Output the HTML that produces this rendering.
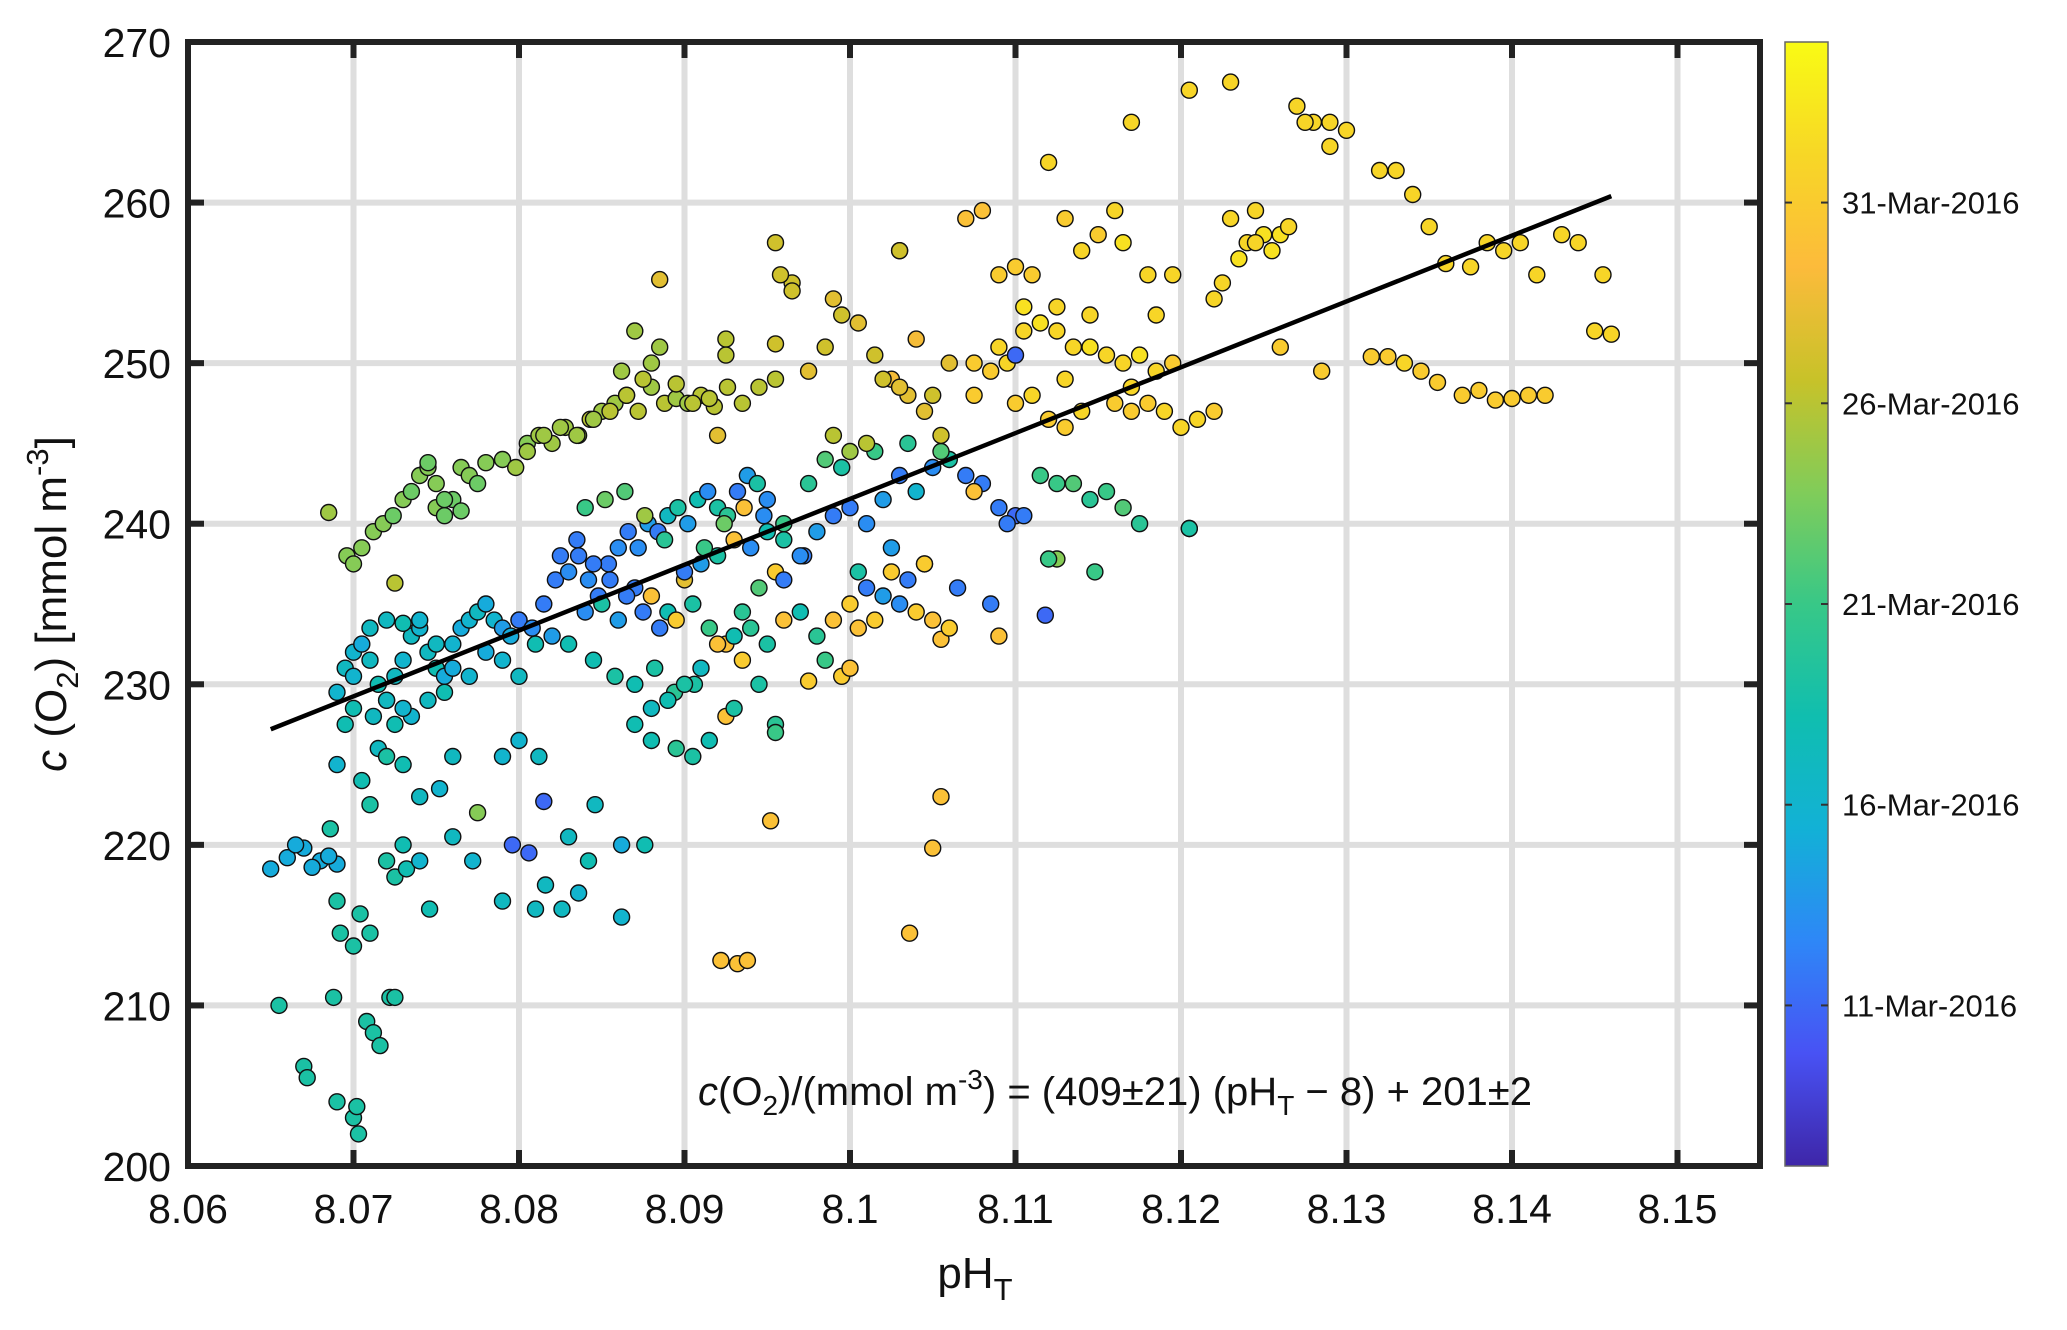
<!DOCTYPE html>
<html><head><meta charset="utf-8"><style>
body{margin:0;background:#fff;}
svg{display:block;font-family:"Liberation Sans",Arial,sans-serif;}
</style></head><body>
<svg id="chart" width="2067" height="1330" viewBox="0 0 2067 1330" xmlns="http://www.w3.org/2000/svg">
<defs>
<linearGradient id="parula" x1="0" y1="1" x2="0" y2="0">
<stop offset="0" stop-color="rgb(62,38,168)"/><stop offset="0.1" stop-color="rgb(72,82,244)"/><stop offset="0.2" stop-color="rgb(46,135,247)"/><stop offset="0.3" stop-color="rgb(18,177,214)"/><stop offset="0.4" stop-color="rgb(16,190,175)"/><stop offset="0.5" stop-color="rgb(56,200,135)"/><stop offset="0.6" stop-color="rgb(129,204,89)"/><stop offset="0.7" stop-color="rgb(200,194,41)"/><stop offset="0.8" stop-color="rgb(252,187,59)"/><stop offset="0.9" stop-color="rgb(247,215,38)"/><stop offset="1" stop-color="rgb(249,251,20)"/>
</linearGradient>
<clipPath id="plotclip"><rect x="188" y="42" width="1572" height="1124"/></clipPath>
</defs>
<g id="grid"></g>
<g id="points" clip-path="url(#plotclip)"></g>
<g id="fit"></g>
<g id="axes"></g>
<text x="698" y="1105" font-size="40" fill="#111"><tspan font-style="italic">c</tspan>(O<tspan font-size="28" dy="10">2</tspan><tspan dy="-10">)/(mmol m</tspan><tspan font-size="28" dy="-16">-3</tspan><tspan dy="16">) = (409±21) (pH</tspan><tspan font-size="28" dy="10">T</tspan><tspan dy="-10"> − 8) + 201±2</tspan></text>
<text x="975" y="1288" font-size="44" text-anchor="middle" fill="#111">pH<tspan font-size="31" dy="12">T</tspan></text>
<text transform="translate(66,604) rotate(-90)" font-size="44" text-anchor="middle" fill="#111"><tspan font-style="italic">c</tspan> (O<tspan font-size="31" dy="12">2</tspan><tspan dy="-12">) [mmol m</tspan><tspan font-size="31" dy="-18">-3</tspan><tspan dy="18">]</tspan></text>
<g id="cbar"></g>
</svg>
<script>
const xTicks=[8.06,8.07,8.08,8.09,8.1,8.11,8.12,8.13,8.14,8.15];
const xTickLabels=["8.06","8.07","8.08","8.09","8.1","8.11","8.12","8.13","8.14","8.15"];
const yTicks=[200,210,220,230,240,250,260,270];
const cbarDays=[4,9,14,19,24];
const cbarLabels=["11-Mar-2016","16-Mar-2016","21-Mar-2016","26-Mar-2016","31-Mar-2016"];
const fitPH=[8.065,8.146];
const fitO2=[227.2,260.4];
const pH=[
8.0650,8.0660,8.0670,8.0680,8.0690,8.0665,8.0675,8.0685,
8.0655,8.0670,8.0672,8.0690,8.0700,8.0703,8.0702,8.0688,8.0708,8.0712,8.0716,8.0722,8.0690,8.0692,8.0700,8.0704,8.0710,8.0686,8.0725,
8.0690,8.0695,8.0705,8.0710,8.0715,8.0720,8.0730,8.0720,8.0725,8.0730,8.0732,8.0740,8.0746,8.0752,8.0760,8.0775,8.0772,8.0790,8.0796,8.0806,8.0810,8.0816,8.0826,8.0830,8.0836,8.0842,8.0815,8.0846,8.0862,8.0790,8.0800,8.0812,8.0740,8.0760,
8.0690,8.0695,8.0700,8.0705,8.0710,8.0715,8.0720,8.0725,8.0730,8.0735,8.0740,8.0745,8.0750,8.0755,8.0760,8.0765,8.0770,8.0775,8.0780,8.0785,8.0790,8.0795,8.0800,8.0700,8.0710,8.0720,8.0730,8.0740,8.0750,8.0760,8.0700,8.0712,8.0725,8.0735,8.0745,8.0755,8.0770,8.0780,8.0790,8.0800,8.0810,8.0720,8.0730,
8.0696,8.0700,8.0705,8.0712,8.0718,8.0724,8.0730,8.0735,8.0740,8.0745,8.0750,8.0755,8.0760,8.0765,8.0770,8.0775,8.0780,8.0790,8.0798,8.0805,8.0812,8.0820,8.0828,8.0836,8.0843,8.0850,8.0858,8.0865,8.0872,8.0880,8.0888,8.0895,8.0902,8.0910,8.0918,8.0926,8.0745,8.0755,8.0765,8.0750,8.0685,8.0725,
8.0805,8.0815,8.0825,8.0835,8.0845,8.0855,8.0865,8.0875,8.0885,8.0895,8.0905,8.0915,8.0925,8.0935,8.0945,8.0955,8.0870,8.0880,8.0925,8.0955,8.0862,8.0885,
8.0800,8.0808,8.0815,8.0822,8.0830,8.0836,8.0842,8.0848,8.0854,8.0860,8.0866,8.0872,8.0878,8.0884,8.0890,8.0896,8.0902,8.0908,8.0914,8.0920,8.0926,8.0932,8.0938,8.0944,8.0950,8.0820,8.0830,8.0840,8.0850,8.0860,8.0870,8.0880,8.0890,8.0900,8.0910,8.0920,8.0930,8.0940,8.0950,8.0960,8.0825,8.0835,8.0845,8.0855,8.0865,8.0875,8.0885,8.0895,8.0905,8.0915,8.0925,8.0935,8.0945,8.0955,8.0840,8.0852,8.0864,8.0876,8.0888,8.0900,8.0912,8.0924,8.0936,8.0948,8.0960,8.0972,8.0845,8.0858,8.0870,8.0882,8.0894,8.0906,
8.0870,8.0880,8.0890,8.0900,8.0910,8.0920,8.0930,8.0940,8.0950,8.0960,8.0970,8.0980,8.0990,8.1000,8.1010,8.1020,8.1030,8.1040,8.1050,8.0925,8.0935,8.0945,8.0955,8.0985,8.0995,8.1005,8.1015,8.1025,8.1035,8.1045,8.0880,8.0895,8.0905,8.0915,8.0930,8.1055,8.1060,
8.0960,8.0970,8.0980,8.0990,8.1000,8.1010,8.1020,8.1030,8.1040,8.1050,8.1060,8.1070,8.1080,8.1090,8.1100,8.0975,8.0995,8.1015,8.1035,8.1055,8.1075,8.1095,8.1005,8.1025,8.1045,8.1065,8.1085,8.1105,8.0985,8.1115,8.1125,8.1135,8.1145,8.1155,8.1165,8.1175,8.1205,8.1125,
8.0955,8.0965,8.0975,8.0985,8.0995,8.1005,8.1015,8.1025,8.1035,8.1045,8.1055,8.0990,8.1000,8.1010,8.1030,8.1050,8.0965,8.0990,8.1020,8.1040,8.1060,8.0958,8.1030,
8.1070,8.1080,8.1090,8.1100,8.1110,8.1120,8.1130,8.1140,8.1150,8.1160,8.1170,8.1180,8.1075,8.1095,8.1105,8.1115,8.1125,8.1135,8.1145,8.1155,8.1165,8.1175,8.1185,8.1195,8.1100,8.1110,8.1120,8.1130,8.1140,8.1160,8.1170,8.1180,8.1190,8.1200,8.1210,8.1220,8.1075,8.1090,8.1105,8.1125,8.1145,8.1165,8.1185,8.1085,8.1130,8.1170,8.1195,8.1220,8.1230,8.1205,
8.1230,8.1240,8.1250,8.1260,8.1270,8.1280,8.1290,8.1300,8.1320,8.1330,8.1340,8.1350,8.1360,8.1370,8.1380,8.1390,8.1400,8.1410,8.1420,8.1430,8.1440,8.1450,8.1460,8.1225,8.1235,8.1245,8.1255,8.1285,8.1315,8.1325,8.1335,8.1345,8.1355,8.1375,8.1385,8.1395,8.1405,8.1415,8.1455,8.1245,8.1260,8.1275,8.1290,8.1265,
8.0922,8.0932,8.0938,8.0952,8.1036,8.1050,8.1055,8.1090,8.1118,8.1148,8.1120,8.1205,8.0862,8.0876,8.0955,8.1000,8.0920,8.1100,8.1030,8.0975
];
const o2=[
218.5,219.2,219.8,219.0,218.8,220.0,218.6,219.3,
210.0,206.2,205.5,204.0,203.0,202.0,203.7,210.5,209.0,208.3,207.5,210.5,216.5,214.5,213.7,215.7,214.5,221.0,210.5,
225.0,227.5,224.0,222.5,226.0,225.5,225.0,219.0,218.0,220.0,218.5,219.0,216.0,223.5,220.5,222.0,219.0,216.5,220.0,219.5,216.0,217.5,216.0,220.5,217.0,219.0,222.7,222.5,220.0,225.5,226.5,225.5,223.0,225.5,
229.5,231.0,232.0,232.5,231.5,230.0,229.0,230.5,231.5,233.0,233.5,232.0,231.0,230.5,232.5,233.5,234.0,234.5,235.0,234.0,233.5,233.0,234.0,230.5,233.5,234.0,233.8,234.0,232.5,231.0,228.5,228.0,227.5,228.0,229.0,229.5,230.5,232.0,231.5,230.5,232.5,229.0,228.5,
238.0,237.5,238.5,239.5,240.0,240.5,241.5,242.0,243.0,243.5,241.0,240.5,241.5,243.5,243.0,242.5,243.8,244.0,243.5,245.0,245.5,245.0,246.0,245.5,246.5,247.0,247.5,248.0,247.0,248.5,247.5,247.8,247.5,248.0,247.3,248.5,243.8,241.5,240.8,242.5,240.7,236.3,
244.5,245.5,246.0,245.5,246.5,247.0,248.0,249.0,251.0,248.7,247.5,247.8,251.5,247.5,248.5,251.2,252.0,250.0,250.5,249.0,249.5,255.2,
234.0,233.5,235.0,236.5,237.0,238.0,236.5,235.5,237.5,238.5,239.5,238.5,240.0,239.5,240.5,241.0,240.0,241.5,242.0,241.0,240.5,242.0,243.0,242.5,241.5,233.0,232.5,234.5,235.0,234.0,236.0,235.5,234.5,236.5,237.5,238.0,239.0,238.5,239.5,240.0,238.0,239.0,237.5,236.5,235.5,234.5,233.5,234.0,235.0,233.5,232.5,234.5,236.0,237.0,241.0,241.5,242.0,240.5,239.0,237.0,238.5,240.0,241.0,240.5,239.0,238.0,231.5,230.5,230.0,231.0,229.5,230.0,
227.5,228.5,229.0,230.0,231.0,232.5,233.0,233.5,232.5,234.0,234.5,233.0,234.0,235.0,236.0,235.5,235.0,234.5,234.0,228.0,231.5,230.0,227.5,231.5,230.5,233.5,234.0,237.0,236.5,237.5,226.5,226.0,225.5,226.5,228.5,232.8,233.5,
236.5,238.0,239.5,240.5,241.0,240.0,241.5,243.0,242.0,243.5,244.0,243.0,242.5,241.0,240.5,242.5,243.5,244.5,245.0,244.5,242.0,240.0,237.0,238.5,237.5,236.0,235.0,240.5,244.0,243.0,242.5,242.5,241.5,242.0,241.0,240.0,239.7,237.8,
257.5,255.0,249.5,251.0,253.0,252.5,250.5,249.0,248.0,247.0,245.5,245.5,244.5,245.0,248.5,248.0,254.5,254.0,249.0,251.5,250.0,255.5,257.0,
259.0,259.5,255.5,256.0,255.5,262.5,259.0,257.0,258.0,259.5,265.0,255.5,248.0,250.0,252.0,252.5,252.0,251.0,251.0,250.5,250.0,250.5,249.5,250.0,247.5,248.0,246.5,246.0,247.0,247.5,248.5,247.5,247.0,246.0,246.5,247.0,250.0,251.0,253.5,253.5,253.0,257.5,253.0,249.5,249.0,247.0,255.5,254.0,259.0,267.0,
267.5,257.5,258.0,258.0,266.0,265.0,265.0,264.5,262.0,262.0,260.5,258.5,256.2,248.0,248.3,247.7,247.8,248.0,248.0,258.0,257.5,252.0,251.8,255.0,256.5,257.5,257.0,249.5,250.4,250.4,250.0,249.5,248.8,256.0,257.5,257.0,257.5,255.5,255.5,259.5,251.0,265.0,263.5,258.5,
212.8,212.6,212.8,221.5,214.5,219.8,223.0,233.0,234.3,237.0,237.8,239.7,215.5,220.0,227.0,231.0,245.5,250.5,257.0,230.2
];
const day=[
8,8,8,8,8,8,8,8,
12,12,12,12,12,12,12,12,12,12,12,12,12,12,12,12,12,12,12,
9,11,11,12,10,12,11,12,12,11,11,9,11,9,10,17,9,10,4,4,10,10,10,10,9,11,4,10,8,9,9,10,10,10,
9,10,9,8,10,11,9,10,9,10,9,10,11,8,9,8,9,10,8,9,7,8,9,9,10,10,11,9,10,8,11,10,11,9,10,11,9,8,9,10,11,10,9,
17,17,17,17,17,16,17,16,17,17,17,16,16,17,17,16,17,17,18,17,18,18,18,18,19,18,18,18,19,18,19,18,18,19,19,19,16,16,16,17,18,19,
18,18,18,18,18,19,19,19,18,19,19,19,19,19,19,20,18,18,19,19,18,21,
5,6,5,5,6,5,6,5,5,6,5,6,7,5,10,12,7,11,6,12,13,5,7,12,6,7,11,6,12,7,5,23,11,21,7,12,23,6,11,14,5,5,5,5,5,5,5,24,12,14,23,13,15,24,14,16,15,18,13,5,14,16,23,6,12,5,11,12,11,12,13,12,
11,10,11,12,10,23,11,13,12,23,11,13,23,24,5,7,6,24,23,23,24,12,13,14,24,23,24,24,5,6,11,13,12,11,12,23,24,
5,6,7,5,5,6,7,5,9,6,12,5,5,5,4,13,12,14,13,15,23,5,12,7,24,5,5,5,15,14,14,15,13,14,15,13,14,17,
20,20,21,20,20,21,20,22,21,21,20,19,18,19,21,20,20,21,20,22,21,20,21,
23,23,24,24,24,25,24,25,24,25,25,25,24,25,25,26,25,25,26,25,25,26,25,24,24,25,24,24,25,24,25,24,25,25,25,24,24,25,26,25,25,26,25,24,25,24,25,25,25,25,
25,25,26,26,25,25,25,25,25,25,25,25,25,24,24,24,24,24,24,25,25,25,25,25,26,25,26,24,24,24,25,24,24,25,25,25,25,25,25,25,24,25,25,25,
23,23,23,23,23,23,23,23,4,14,14,12,9,11,14,23,21,4,20,24
];

const NS="http://www.w3.org/2000/svg";
const X0=188,X1=1760,Y0=42,Y1=1166,CB0=1785,CB1=1828,DAYMAX=28;
function xs(v){return X0+(v-8.06)*16550;}
function ys(v){return Y0+(270-v)*(Y1-Y0)/70;}
function cy(d){return Y1-(d/DAYMAX)*(Y1-Y0);}
const stops=[[0,[62,38,168]],[0.1,[72,82,244]],[0.2,[46,135,247]],[0.3,[18,177,214]],[0.4,[16,190,175]],[0.5,[56,200,135]],[0.6,[129,204,89]],[0.7,[200,194,41]],[0.8,[252,187,59]],[0.9,[247,215,38]],[1,[249,251,20]]];
function parula(t){t=Math.max(0,Math.min(1,t));for(let i=1;i<stops.length;i++){if(t<=stops[i][0]){const a=stops[i-1],b=stops[i];const f=(t-a[0])/(b[0]-a[0]);const c=a[1].map((v,k)=>Math.round(v+(b[1][k]-v)*f));return "rgb("+c.join(",")+")";}}return "rgb(249,251,20)";}
function mk(tag,attrs,parent){const e=document.createElementNS(NS,tag);for(const k in attrs)e.setAttribute(k,attrs[k]);parent.appendChild(e);return e;}

const grid=document.getElementById('grid');
xTicks.forEach(v=>{const l=mk('line',{x1:xs(v),x2:xs(v),y1:Y0,y2:Y1,stroke:'#dedede','stroke-width':6},grid);

});
yTicks.forEach(v=>{const l=mk('line',{x1:X0,x2:X1,y1:ys(v),y2:ys(v),stroke:'#dedede','stroke-width':6},grid);

});

const pts=document.getElementById('points');
for(let i=0;i<pH.length;i++){
const c=mk('circle',{cx:xs(pH[i]).toFixed(1),cy:ys(o2[i]).toFixed(1),r:8,fill:parula(day[i]/DAYMAX),stroke:'#111','stroke-width':1.4},pts);


}

const fit=document.getElementById('fit');
const fl=mk('line',{x1:xs(fitPH[0]),y1:ys(fitO2[0]),x2:xs(fitPH[1]),y2:ys(fitO2[1]),stroke:'#000','stroke-width':4.5},fit);



const ax=document.getElementById('axes');
const frame=mk('rect',{x:X0,y:Y0,width:X1-X0,height:Y1-Y0,fill:'none',stroke:'#222','stroke-width':6},ax);


xTicks.forEach((v,i)=>{
mk('line',{x1:xs(v),x2:xs(v),y1:Y1,y2:Y1-16,stroke:'#222','stroke-width':6},ax);
mk('line',{x1:xs(v),x2:xs(v),y1:Y0,y2:Y0+16,stroke:'#222','stroke-width':6},ax);
const t=mk('text',{x:xs(v),y:1223,'font-size':41,'text-anchor':'middle',fill:'#111'},ax);
t.textContent=xTickLabels[i];


});
yTicks.forEach(v=>{
mk('line',{x1:X0,x2:X0+16,y1:ys(v),y2:ys(v),stroke:'#222','stroke-width':6},ax);
mk('line',{x1:X1,x2:X1-16,y1:ys(v),y2:ys(v),stroke:'#222','stroke-width':6},ax);
const t=mk('text',{x:171,y:ys(v)+15,'font-size':41,'text-anchor':'end',fill:'#111'},ax);
t.textContent=String(v);


});

const cb=document.getElementById('cbar');
const cr=mk('rect',{x:CB0,y:Y0,width:CB1-CB0,height:Y1-Y0,fill:'url(#parula)',stroke:'#666','stroke-width':1.5},cb);


cbarDays.forEach((d,i)=>{
mk('line',{x1:CB1,x2:CB1-7,y1:cy(d),y2:cy(d),stroke:'#333','stroke-width':2},cb);
mk('line',{x1:CB0,x2:CB0+7,y1:cy(d),y2:cy(d),stroke:'#333','stroke-width':2},cb);
const t=mk('text',{x:1842,y:cy(d)+11,'font-size':31,fill:'#111'},cb);
t.textContent=cbarLabels[i];


});
</script>
</body></html>
